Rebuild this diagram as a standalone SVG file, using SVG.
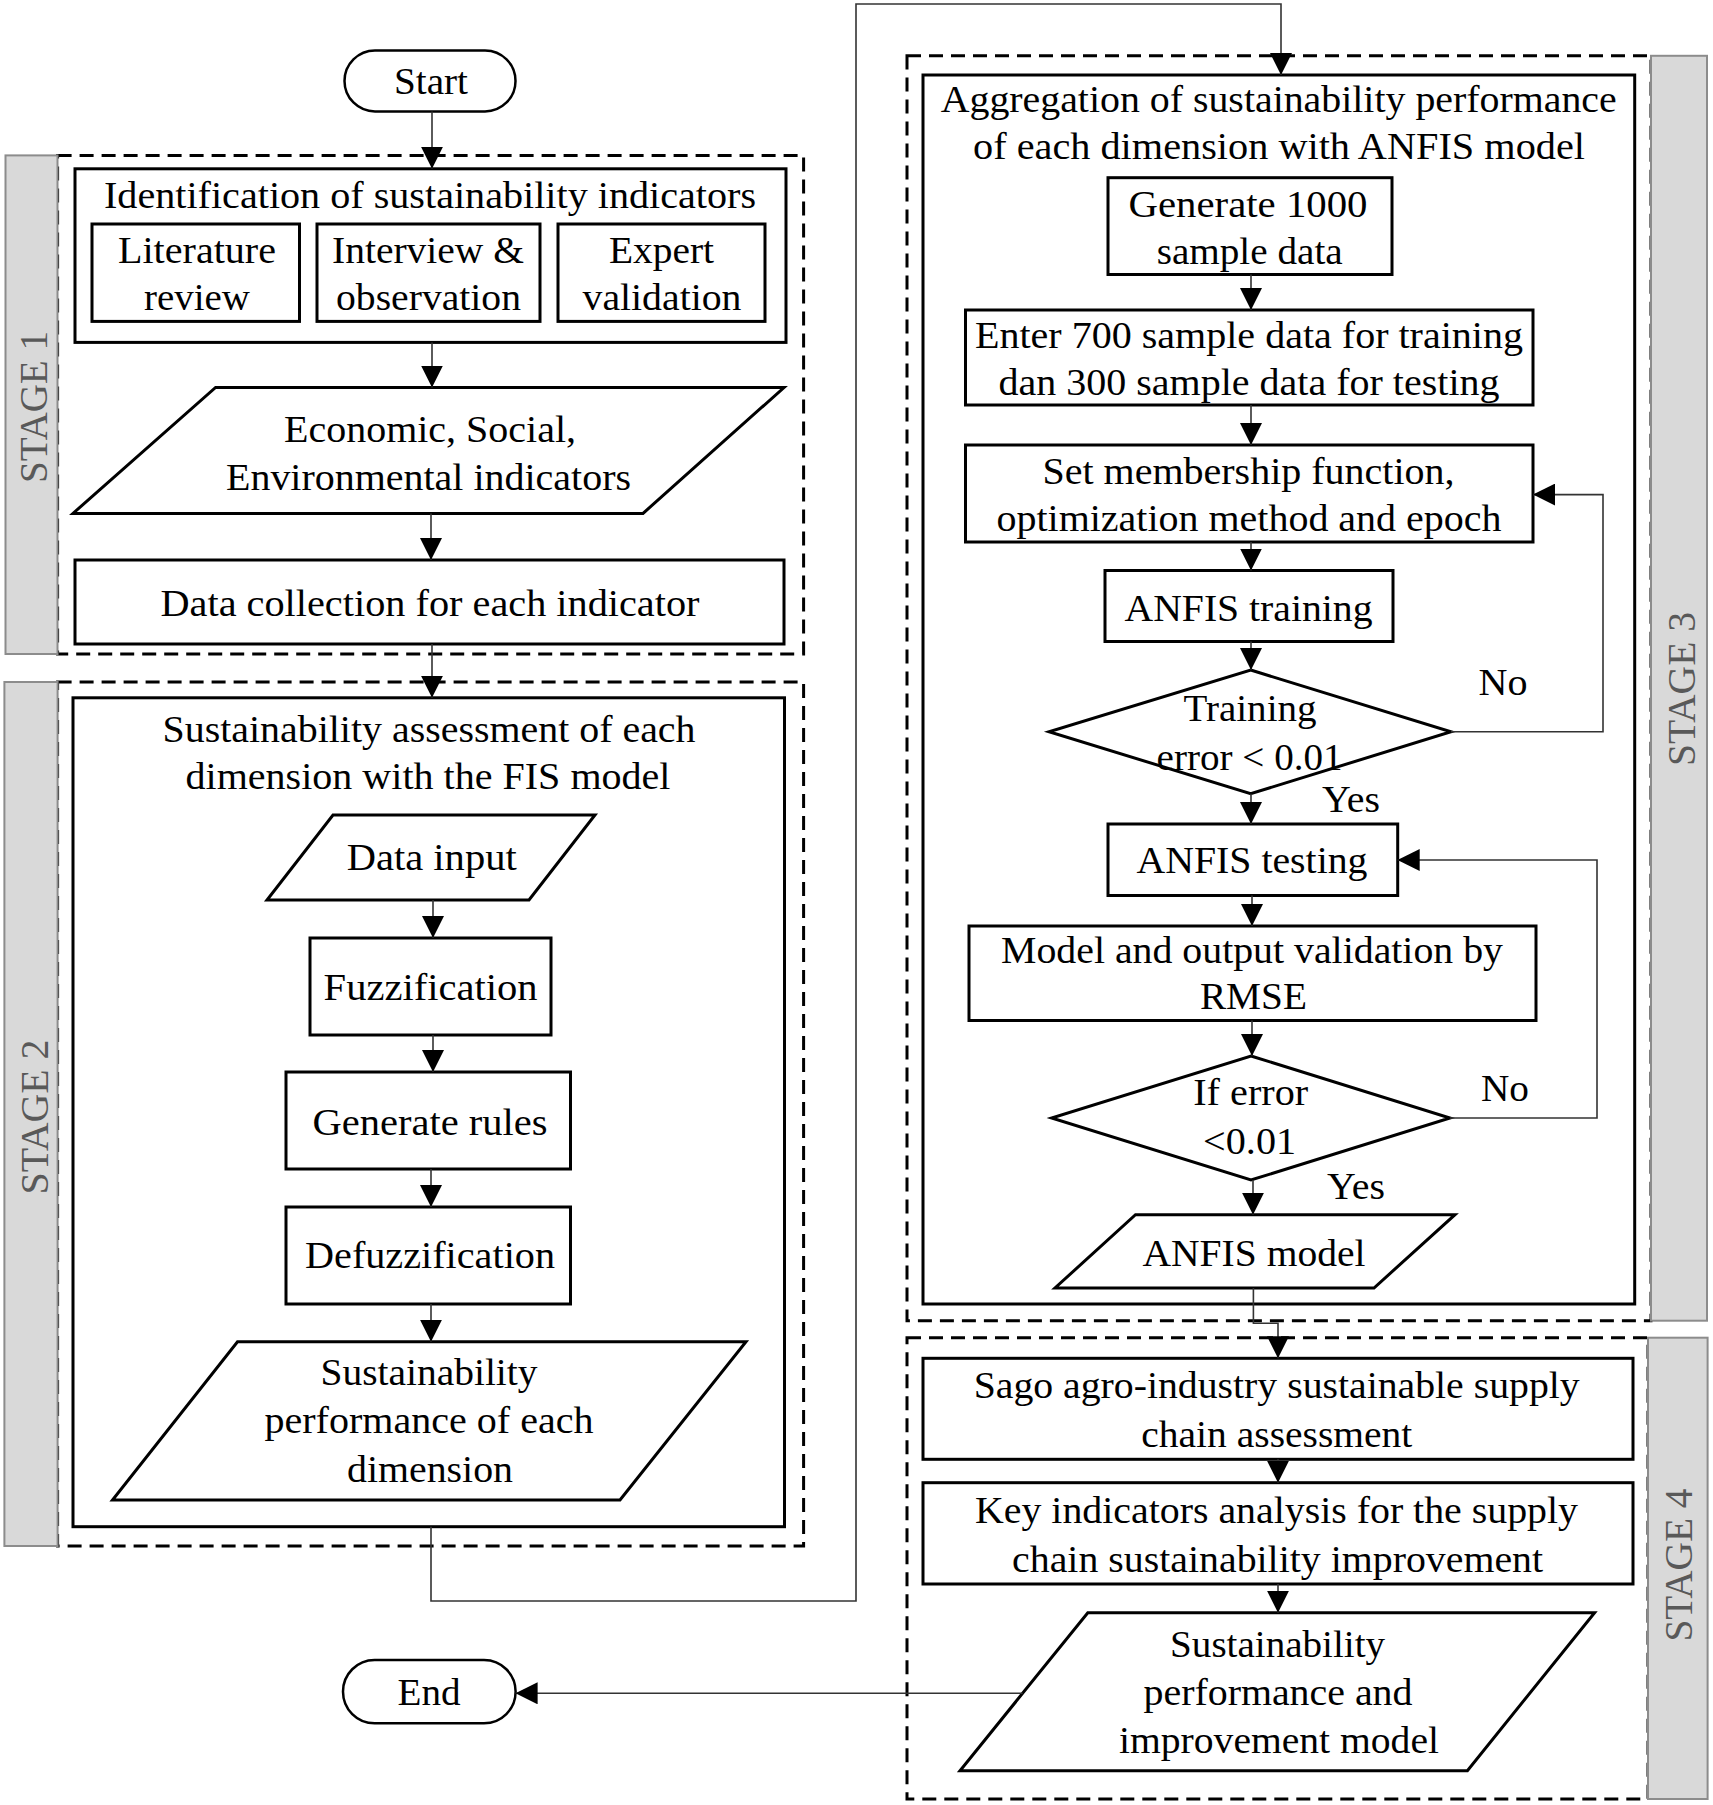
<svg xmlns="http://www.w3.org/2000/svg" width="1713" height="1805" viewBox="0 0 1713 1805">
<style>
.box{fill:#fff;stroke:#000;stroke-width:3}
.term{fill:#fff;stroke:#000;stroke-width:2.5}
.stage{fill:none;stroke:#000;stroke-width:3;stroke-dasharray:14 8}
.bar{fill:#d9d9d9;stroke:#8c8c8c;stroke-width:2}
.t{font-family:"Liberation Serif","Times New Roman",serif;font-size:37px;text-anchor:middle;fill:#000}
.st{font-family:"Liberation Serif","Times New Roman",serif;font-size:40px;text-anchor:middle;fill:#595959}
.conn{fill:none;stroke:#333;stroke-width:1.6}
</style>
<defs>
<marker id="ah" markerUnits="userSpaceOnUse" markerWidth="22" markerHeight="22" refX="22" refY="11" orient="auto">
<path d="M0,0 L22,11 L0,22 z" fill="#000"/>
</marker>
</defs>
<rect width="1713" height="1805" fill="#fff"/>

<!-- stage frames -->
<g id="stage1">
<rect class="stage" x="57.6" y="155.4" width="746" height="498.6"/>
<rect class="bar" x="5.5" y="155.4" width="52" height="498.6"/>
<text class="st" transform="translate(47,407) rotate(-90)" textLength="152" lengthAdjust="spacingAndGlyphs">STAGE  1</text>
</g>
<g id="stage2">
<rect class="stage" x="57.6" y="682" width="746" height="864"/>
<rect class="bar" x="4.4" y="682" width="53.2" height="864"/>
<text class="st" transform="translate(48,1117) rotate(-90)" textLength="155" lengthAdjust="spacingAndGlyphs">STAGE  2</text>
</g>
<g id="stage3">
<rect class="stage" x="907" y="55.8" width="744" height="1264.9"/>
<rect class="bar" x="1651" y="55.8" width="56" height="1264.9"/>
<text class="st" transform="translate(1695,689) rotate(-90)" textLength="154" lengthAdjust="spacingAndGlyphs">STAGE  3</text>
</g>
<g id="stage4">
<rect class="stage" x="907" y="1337.7" width="741" height="461.3"/>
<rect class="bar" x="1648" y="1337.7" width="59.6" height="461.3"/>
<text class="st" transform="translate(1692,1565) rotate(-90)" textLength="153" lengthAdjust="spacingAndGlyphs">STAGE  4</text>
</g>

<!-- stage 1 nodes -->
<g id="ident">
<rect class="box" x="75" y="168.8" width="711" height="173.6"/>
<text class="t" x="430" y="207.6" textLength="652" lengthAdjust="spacingAndGlyphs">Identification of sustainability indicators</text>
</g>
<g id="lit">
<rect class="box" x="92" y="224" width="207.5" height="97.4"/>
<text class="t" x="197" y="262.5" textLength="158" lengthAdjust="spacingAndGlyphs">Literature</text>
<text class="t" x="197" y="310" textLength="106" lengthAdjust="spacingAndGlyphs">review</text>
</g>
<g id="interview">
<rect class="box" x="317" y="224" width="223" height="97.4"/>
<text class="t" x="428" y="262.5" textLength="192" lengthAdjust="spacingAndGlyphs">Interview &amp;</text>
<text class="t" x="428.5" y="310" textLength="185" lengthAdjust="spacingAndGlyphs">observation</text>
</g>
<g id="expert">
<rect class="box" x="558" y="224" width="207" height="97.4"/>
<text class="t" x="661.5" y="262.5" textLength="105" lengthAdjust="spacingAndGlyphs">Expert</text>
<text class="t" x="662" y="310" textLength="159" lengthAdjust="spacingAndGlyphs">validation</text>
</g>
<g id="indicators">
<polygon class="box" points="215.6,387.5 784,387.5 643,513.4 73,513.4"/>
<text class="t" x="430" y="442" textLength="292" lengthAdjust="spacingAndGlyphs">Economic, Social,</text>
<text class="t" x="428.5" y="489.7" textLength="405" lengthAdjust="spacingAndGlyphs">Environmental indicators</text>
</g>
<g id="datacoll">
<rect class="box" x="75" y="560" width="709" height="84"/>
<text class="t" x="430" y="616" textLength="539" lengthAdjust="spacingAndGlyphs">Data collection for each indicator</text>
</g>

<!-- stage 2 nodes -->
<g id="fis">
<rect class="box" x="73" y="697.8" width="711.5" height="828.9"/>
<text class="t" x="429" y="741.5" textLength="533" lengthAdjust="spacingAndGlyphs">Sustainability assessment of each</text>
<text class="t" x="428" y="789" textLength="485" lengthAdjust="spacingAndGlyphs">dimension with the FIS model</text>
</g>
<g id="datainput">
<polygon class="box" points="333,815 595,815 529,900 267,900"/>
<text class="t" x="431.7" y="870" textLength="170" lengthAdjust="spacingAndGlyphs">Data input</text>
</g>
<g id="fuzz">
<rect class="box" x="310" y="938" width="241" height="97"/>
<text class="t" x="430.6" y="1000" textLength="214" lengthAdjust="spacingAndGlyphs">Fuzzification</text>
</g>
<g id="rules">
<rect class="box" x="286" y="1072" width="284.5" height="97"/>
<text class="t" x="430" y="1135" textLength="235" lengthAdjust="spacingAndGlyphs">Generate rules</text>
</g>
<g id="defuzz">
<rect class="box" x="286" y="1207" width="284.5" height="97"/>
<text class="t" x="430" y="1268" textLength="250" lengthAdjust="spacingAndGlyphs">Defuzzification</text>
</g>
<g id="perf">
<polygon class="box" points="237.5,1341.7 746,1341.7 620,1500 112.5,1500"/>
<text class="t" x="429" y="1385" textLength="217" lengthAdjust="spacingAndGlyphs">Sustainability</text>
<text class="t" x="429" y="1433.3" textLength="329" lengthAdjust="spacingAndGlyphs">performance of each</text>
<text class="t" x="430" y="1481.7" textLength="166" lengthAdjust="spacingAndGlyphs">dimension</text>
</g>

<g id="start">
<rect class="term" x="344.5" y="50.4" width="171" height="61" rx="30.5"/>
<text class="t" x="431" y="94" textLength="74" lengthAdjust="spacingAndGlyphs">Start</text>
</g>
<g id="end">
<rect class="term" x="343" y="1660" width="172.6" height="63.3" rx="31.6"/>
<text class="t" x="429" y="1705" textLength="63" lengthAdjust="spacingAndGlyphs">End</text>
</g>

<!-- stage 3 nodes -->
<g id="anfis">
<rect class="box" x="923" y="75" width="711.7" height="1229"/>
<text class="t" x="1278.7" y="111.6" textLength="676" lengthAdjust="spacingAndGlyphs">Aggregation of sustainability performance</text>
<text class="t" x="1279" y="159.4" textLength="612" lengthAdjust="spacingAndGlyphs">of each dimension with ANFIS model</text>
</g>
<g id="gen1000">
<rect class="box" x="1108" y="177.7" width="284" height="96.8"/>
<text class="t" x="1248" y="216.5" textLength="239" lengthAdjust="spacingAndGlyphs">Generate 1000</text>
<text class="t" x="1249.7" y="264" textLength="186" lengthAdjust="spacingAndGlyphs">sample data</text>
</g>
<g id="enter">
<rect class="box" x="965.5" y="310" width="567.5" height="95"/>
<text class="t" x="1249" y="348" textLength="548" lengthAdjust="spacingAndGlyphs">Enter 700 sample data for training</text>
<text class="t" x="1249" y="395" textLength="501" lengthAdjust="spacingAndGlyphs">dan 300 sample data for testing</text>
</g>
<g id="setmf">
<rect class="box" x="965.5" y="445" width="567.5" height="97"/>
<text class="t" x="1248.5" y="484" textLength="412" lengthAdjust="spacingAndGlyphs">Set membership function,</text>
<text class="t" x="1249" y="531" textLength="505" lengthAdjust="spacingAndGlyphs">optimization method and epoch</text>
</g>
<g id="training">
<rect class="box" x="1105" y="570.5" width="288" height="71"/>
<text class="t" x="1248.5" y="620.5" textLength="248" lengthAdjust="spacingAndGlyphs">ANFIS training</text>
</g>
<g id="dec1">
<polygon class="box" points="1250.7,670 1451,731.7 1250.7,793.75 1049,731.7"/>
<text class="t" x="1250" y="721" textLength="133" lengthAdjust="spacingAndGlyphs">Training</text>
<text class="t" x="1249.6" y="769.6" textLength="186" lengthAdjust="spacingAndGlyphs">error &lt; 0.01</text>
</g>
<g id="testing">
<rect class="box" x="1108" y="824" width="289.7" height="71.5"/>
<text class="t" x="1252" y="873" textLength="231" lengthAdjust="spacingAndGlyphs">ANFIS testing</text>
</g>
<g id="validation">
<rect class="box" x="969" y="926" width="567" height="94.5"/>
<text class="t" x="1252" y="962.5" textLength="502" lengthAdjust="spacingAndGlyphs">Model and output validation by</text>
<text class="t" x="1253.4" y="1009" textLength="107" lengthAdjust="spacingAndGlyphs">RMSE</text>
</g>
<g id="dec2">
<polygon class="box" points="1251,1056 1450,1118 1251,1180 1051.6,1118"/>
<text class="t" x="1250.7" y="1105" textLength="115" lengthAdjust="spacingAndGlyphs">If error</text>
<text class="t" x="1249.6" y="1153.6" textLength="93" lengthAdjust="spacingAndGlyphs">&lt;0.01</text>
</g>
<g id="anfismodel">
<polygon class="box" points="1135.5,1214.7 1455,1214.7 1374,1288 1055,1288"/>
<text class="t" x="1254" y="1266" textLength="223" lengthAdjust="spacingAndGlyphs">ANFIS model</text>
</g>

<!-- stage 4 nodes -->
<g id="sago">
<rect class="box" x="923" y="1358.3" width="710" height="101"/>
<text class="t" x="1276.7" y="1398.3" textLength="606" lengthAdjust="spacingAndGlyphs">Sago agro-industry sustainable supply</text>
<text class="t" x="1276.8" y="1446.7" textLength="271" lengthAdjust="spacingAndGlyphs">chain assessment</text>
</g>
<g id="keyind">
<rect class="box" x="923" y="1482.7" width="710" height="101.3"/>
<text class="t" x="1276.5" y="1522.7" textLength="603" lengthAdjust="spacingAndGlyphs">Key indicators analysis for the supply</text>
<text class="t" x="1277.6" y="1571.7" textLength="531" lengthAdjust="spacingAndGlyphs">chain sustainability improvement</text>
</g>
<g id="finalmodel">
<polygon class="box" points="1087.8,1612.7 1594.6,1612.7 1467.4,1770.7 960,1770.7"/>
<text class="t" x="1277.6" y="1656.7" textLength="215" lengthAdjust="spacingAndGlyphs">Sustainability</text>
<text class="t" x="1278" y="1705" textLength="269" lengthAdjust="spacingAndGlyphs">performance and</text>
<text class="t" x="1279" y="1753.3" textLength="320" lengthAdjust="spacingAndGlyphs">improvement model</text>
</g>

<g id="connectors">
<path class="conn" d="M432,111.6 V168.8" marker-end="url(#ah)"/>
<path class="conn" d="M432,342.4 V387.5" marker-end="url(#ah)"/>
<path class="conn" d="M431,513.4 V560" marker-end="url(#ah)"/>
<path class="conn" d="M432,644 V697.8" marker-end="url(#ah)"/>
<path class="conn" d="M433,900 V938" marker-end="url(#ah)"/>
<path class="conn" d="M433,1035 V1072" marker-end="url(#ah)"/>
<path class="conn" d="M431,1169 V1207" marker-end="url(#ah)"/>
<path class="conn" d="M431,1304 V1341.7" marker-end="url(#ah)"/>
<path class="conn" d="M431,1526.7 V1601 H856 V4 H1281 V75" marker-end="url(#ah)"/>
<path class="conn" d="M1251,274.5 V310" marker-end="url(#ah)"/>
<path class="conn" d="M1251,405 V445" marker-end="url(#ah)"/>
<path class="conn" d="M1251,542 V570.5" marker-end="url(#ah)"/>
<path class="conn" d="M1251,641.5 V670" marker-end="url(#ah)"/>
<path class="conn" d="M1451,731.7 H1603 V494.6 H1533" marker-end="url(#ah)"/>
<path class="conn" d="M1251,793.75 V824" marker-end="url(#ah)"/>
<path class="conn" d="M1252,895.5 V926" marker-end="url(#ah)"/>
<path class="conn" d="M1252,1020.5 V1056" marker-end="url(#ah)"/>
<path class="conn" d="M1450,1118 H1597 V860 H1397.7" marker-end="url(#ah)"/>
<path class="conn" d="M1253,1180 V1214.7" marker-end="url(#ah)"/>
<path class="conn" d="M1253.4,1288 V1323.3 H1278 V1358.3" marker-end="url(#ah)"/>
<path class="conn" d="M1278,1459.3 V1482.7" marker-end="url(#ah)"/>
<path class="conn" d="M1278,1584 V1612.7" marker-end="url(#ah)"/>
<path class="conn" d="M1022.6,1693.3 H515.6" marker-end="url(#ah)"/>
</g>
<g id="labels">
<text class="t" x="1503" y="694.6" textLength="49" lengthAdjust="spacingAndGlyphs">No</text>
<text class="t" x="1351" y="811.6" textLength="58" lengthAdjust="spacingAndGlyphs">Yes</text>
<text class="t" x="1505" y="1101" textLength="48" lengthAdjust="spacingAndGlyphs">No</text>
<text class="t" x="1356" y="1199" textLength="58" lengthAdjust="spacingAndGlyphs">Yes</text>
</g>
</svg>
